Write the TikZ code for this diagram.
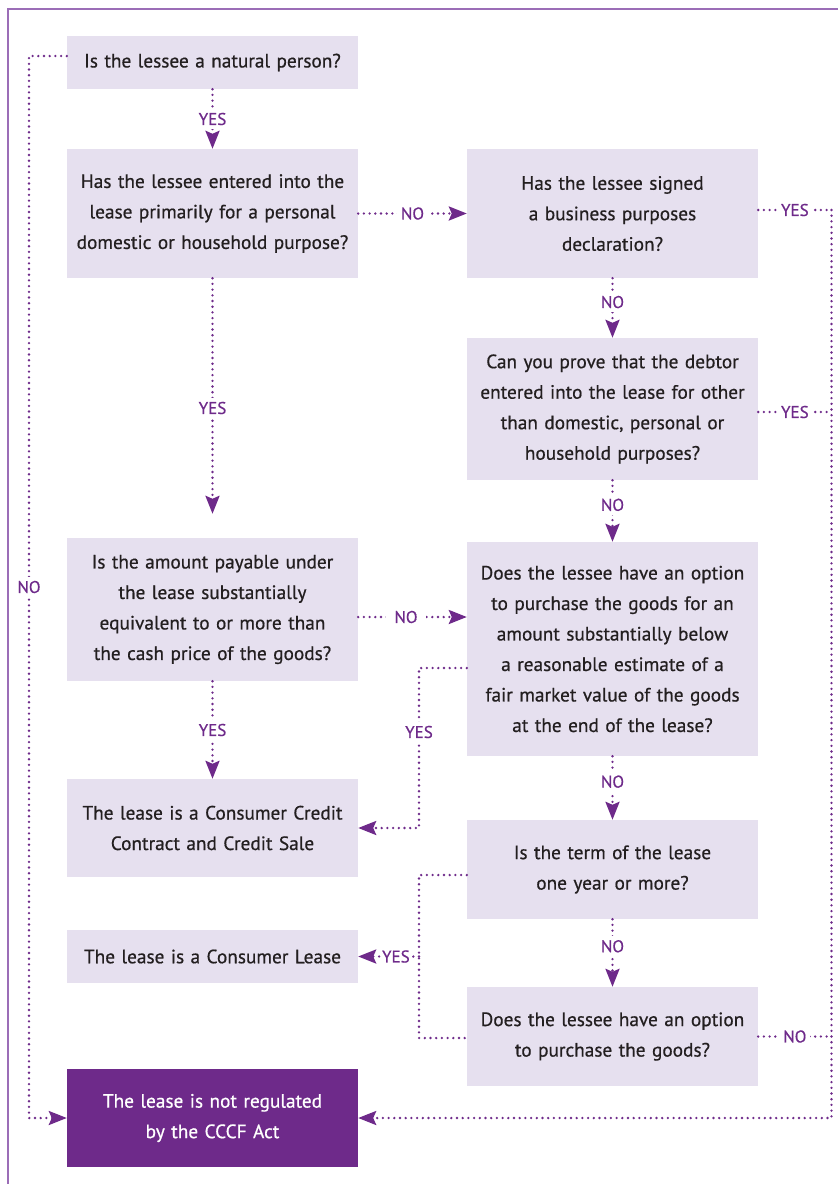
\documentclass[tikz,border=0pt]{standalone}
\usepackage{fontspec}
\setmainfont{PT Sans}[FakeBold=0.6]
\usetikzlibrary{arrows.meta,calc}
\definecolor{boxfill}{HTML}{E6E0EF}
\definecolor{purp}{HTML}{6E2A8A}
\definecolor{framec}{HTML}{9B6DB7}
\definecolor{txt}{HTML}{231F20}
\begin{document}
\begin{tikzpicture}[x=1pt,y=-1pt,
  box/.style={fill=boxfill, text=txt, minimum width=291pt, text width=287pt, align=center, inner sep=0pt, font=\fontsize{19.3}{30.5}\selectfont},
  darkbox/.style={box, fill=purp, text=white},
  conn/.style={draw=purp, line width=2.6pt, dash pattern=on 0pt off 5.7pt, line cap=round},
  arr/.style={conn, -{Stealth[length=18pt,width=14pt,inset=3pt]}},
  lbl/.style={fill=white, text=purp, font=\fontsize{17}{17}\selectfont, inner sep=4pt},
  tightlbl/.style={lbl, inner sep=1.5pt}
]
\useasboundingbox (0,0) rectangle (838,1184);
\fill[white] (0,0) rectangle (838,1184);
\draw[framec, line width=1.5pt] (8,1184) -- (8,9) -- (838,9);

\node[box, minimum height=53pt] (b1) at (212.5,62.5) {Is the lessee a natural person?};
\node[box, minimum height=129pt] (b2) at (212.5,213.5) {Has the lessee entered into the\\lease primarily for a personal\\domestic or household purpose?};
\node[box, minimum height=129pt] (b3) at (612.5,213.5) {Has the lessee signed\\a business purposes\\declaration?};
\node[box, minimum height=142pt] (b4) at (612.5,409) {Can you prove that the debtor\\entered into the lease for other\\than domestic, personal or\\household purposes?};
\node[box, minimum height=143pt] (b5) at (212.5,609.5) {Is the amount payable under\\the lease substantially\\equivalent to or more than\\the cash price of the goods?};
\node[box, minimum height=214pt] (b6) at (612.5,649) {Does the lessee have an option\\to purchase the goods for an\\amount substantially below\\a reasonable estimate of a\\fair market value of the goods\\at the end of the lease?};
\node[box, minimum height=98pt] (b7) at (212.5,828) {The lease is a Consumer Credit\\Contract and Credit Sale};
\node[box, minimum height=99pt] (b8) at (612.5,869.5) {Is the term of the lease\\one year or more?};
\node[box, minimum height=53pt] (b9) at (212.5,956.5) {The lease is a Consumer Lease};
\node[box, minimum height=99pt] (b10) at (612.5,1036.5) {Does the lessee have an option\\to purchase the goods?};
\node[darkbox, minimum height=98pt] (b11) at (212.5,1118) {The lease is not regulated\\by the CCCF Act};

\coordinate (R) at (831.5,0);
\coordinate (L) at (29,0);
\coordinate (J1) at (419,0);
\coordinate (J2) at (419,956.5);
\coordinate (r1) at (831.5,210);
\coordinate (r2) at (831.5,412);

\draw[arr] (b1) -- node[lbl]{YES} (b2);
\draw[arr] (b2) -- node[lbl]{NO} (b3);
\draw[arr, shorten >=24pt] (b2) -- node[lbl]{YES} (b5);
\draw[arr] (b3) -- node[lbl, pos=0.4]{NO} (b4);
\draw[arr] (b4) -- node[lbl, pos=0.4]{NO} (b6);
\draw[arr] ([yshift=-7.5pt]b5.east) -- node[lbl, pos=0.44, inner sep=8pt]{NO} ([yshift=-7.5pt]b5.east -| b6.west);
\draw[arr] (b5) -- node[lbl]{YES} (b7);
\draw[arr] (b6) -- node[lbl, pos=0.4]{NO} (b8);
\draw[arr] (b8) -- node[lbl, pos=0.4]{NO} (b10);
\draw[arr] ([yshift=-19pt]b6.west) -| node[lbl, pos=0.7]{YES} (J1 |- b7.east) -- (b7.east);
\draw[conn] ([yshift=-5.5pt]b8.west) -| (J2) |- ([yshift=-1.5pt]b10.west);
\draw[arr] (J2) -- node[tightlbl, pos=0.38]{YES} (b9.east);
\draw[conn] (b3.east |- r1) -- node[lbl]{YES} (r1);
\draw[conn] (b4.east |- r2) -- node[lbl]{YES} (r2);
\draw[conn] (b10.east) -- node[lbl]{NO} (R |- b10.east);
\draw[arr] (r1) |- (b11.east);
\draw[arr] ([yshift=6.5pt]b1.west) -| node[lbl, pos=0.75]{NO} (L |- b11.west) -- (b11.west);
\end{tikzpicture}
\end{document}
